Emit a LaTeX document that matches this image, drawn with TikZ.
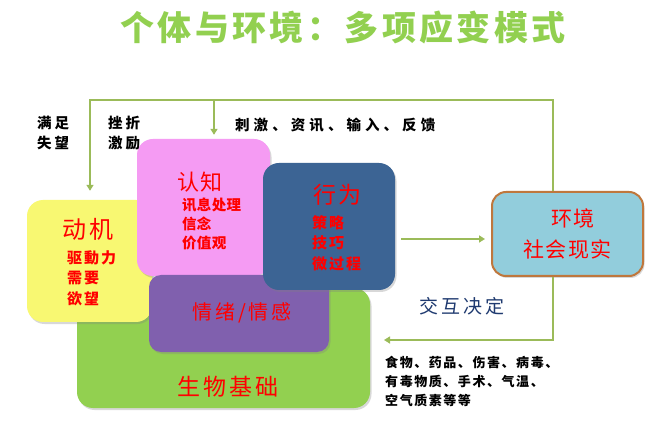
\documentclass[tikz,border=0pt]{standalone}
\usepackage{fontspec}
\setmainfont{Noto Sans CJK SC}
\usetikzlibrary{arrows.meta,shadows,calc}
\definecolor{titlegreen}{HTML}{92D050}
\definecolor{linegreen}{HTML}{9BBB59}
\definecolor{boxyellow}{HTML}{F8F872}
\definecolor{boxpink}{HTML}{F59BF3}
\definecolor{boxblue}{HTML}{3C6494}
\definecolor{boxpurple}{HTML}{8060AE}
\definecolor{boxgreen}{HTML}{92D050}
\definecolor{envfill}{HTML}{92CDDC}
\definecolor{envborder}{HTML}{BF773D}
\definecolor{navytext}{HTML}{1F3A70}
\definecolor{redtext}{HTML}{FF0000}
\newcommand\myfs[3]{\fontsize{#1}{#2}\selectfont\addfontfeature{LetterSpace=#3}}
\begin{document}
\begin{tikzpicture}[x=1pt,y=-1pt,
  box/.style={rectangle, rounded corners=16pt, inner sep=0pt, draw=none,
    drop shadow={shadow xshift=1.5pt, shadow yshift=-2pt, opacity=0.3, fill=black!50}},
  txt/.style={inner sep=0pt, anchor=west, align=left},
  ctxt/.style={inner sep=0pt, anchor=center, align=center},
  fb/.style={draw=linegreen, line width=2.6pt, -{Triangle[length=6pt,width=7pt]}}
]
\fill[white] (0,0) rectangle (658,435);
\useasboundingbox (0,0) rectangle (658,435);

% title
\node[ctxt, text=titlegreen, font={\bfseries\myfs{34}{40}{10}}] (title) at (343,28) {个体与环境：多项应变模式};

% boxes (back to front)
\node[box, fill=boxgreen, minimum width=293pt, minimum height=120pt] (bio) at (223.5,348) {};
\node[box, fill=boxyellow, minimum width=125pt, minimum height=122pt] (mot) at (89.5,261) {};
\node[box, fill=boxpink, minimum width=133pt, minimum height=137pt] (cog) at (203.5,207.5) {};
\node[box, fill=boxpurple, rounded corners=12pt, minimum width=180pt, minimum height=77pt] (emo) at (239,313.5) {};
\node[box, fill=boxblue, minimum width=132pt, minimum height=127pt] (beh) at (329,226.5) {};
\node[box, fill=envfill, draw=envborder, line width=2pt, rounded corners=14pt, minimum width=151pt, minimum height=84pt] (env) at (567.5,234) {};

% box texts
\node[txt, text=redtext, font={\myfs{24}{28}{15}}] (motT) at (62,229) {动机};
\node[txt, text=redtext, font={\bfseries\myfs{15}{20.5}{13}}] (motL) at (67,278) {驱動力\\需要\\欲望};
\node[txt, text=redtext, font={\myfs{22}{26}{5}}] (cogT) at (177,182) {认知};
\node[txt, text=redtext, font={\bfseries\myfs{14.5}{19}{2}}] (cogL) at (182,224) {讯息处理\\信念\\价值观};
\node[txt, text=redtext, font={\myfs{23}{26}{9}}] (behT) at (313,195) {行为};
\node[txt, text=redtext, font={\bfseries\myfs{15}{20.5}{13}}] (behL) at (312,243) {策略\\技巧\\微过程};
\node[ctxt, text=redtext, font={\myfs{21}{24}{5}}] (envT) at (573,218) {环境};
\node[ctxt, text=redtext, font={\myfs{21}{24}{5}}] (envL) at (567.5,249) {社会现实};
\node[ctxt, text=redtext, font={\myfs{20}{24}{15}}] (emoT) at (242,313) {情绪/情感};
\node[ctxt, text=redtext, font={\myfs{23}{26}{13}}] (bioT) at (228,387) {生物基础};

% other labels
\node[ctxt, text=navytext, font={\myfs{19}{22}{16}}] (inter) at (462,306) {交互决定};
\node[txt, font={\bfseries\myfs{14.5}{20}{20}}] (lab1) at (37,133) {满足\\失望};
\node[txt, font={\bfseries\myfs{14.5}{20}{20}}] (lab2) at (108,133) {挫折\\激励};
\node[txt, font={\bfseries\myfs{14.5}{18}{28}}] (lab3) at (235,125) {刺激、资讯、输入、反馈};
\node[txt, font={\bfseries\myfs{13}{19}{12}}] (lab4) at (385,381) {食物、药品、伤害、病毒、\\有毒物质、手术、气温、\\空气质素等等};

% connectors
\coordinate (tl) at (90,100);
\coordinate (tb) at (214,100);
\coordinate (bl) at (384,340);
\draw[fb] ([xshift=-14.5pt]env.north) |- (tl) -- (tl |- mot.north) [shorten >=9pt];
\draw[fb, shorten >=4pt] (tb) -- (tb |- cog.north);
\draw[fb] ([xshift=-14.5pt]env.south) |- (bl);
\draw[fb, shorten <=6pt, shorten >=6pt] ([yshift=-12.5pt]beh.east) -- ([yshift=-12.5pt]beh.east -| env.west);
\end{tikzpicture}
\end{document}
